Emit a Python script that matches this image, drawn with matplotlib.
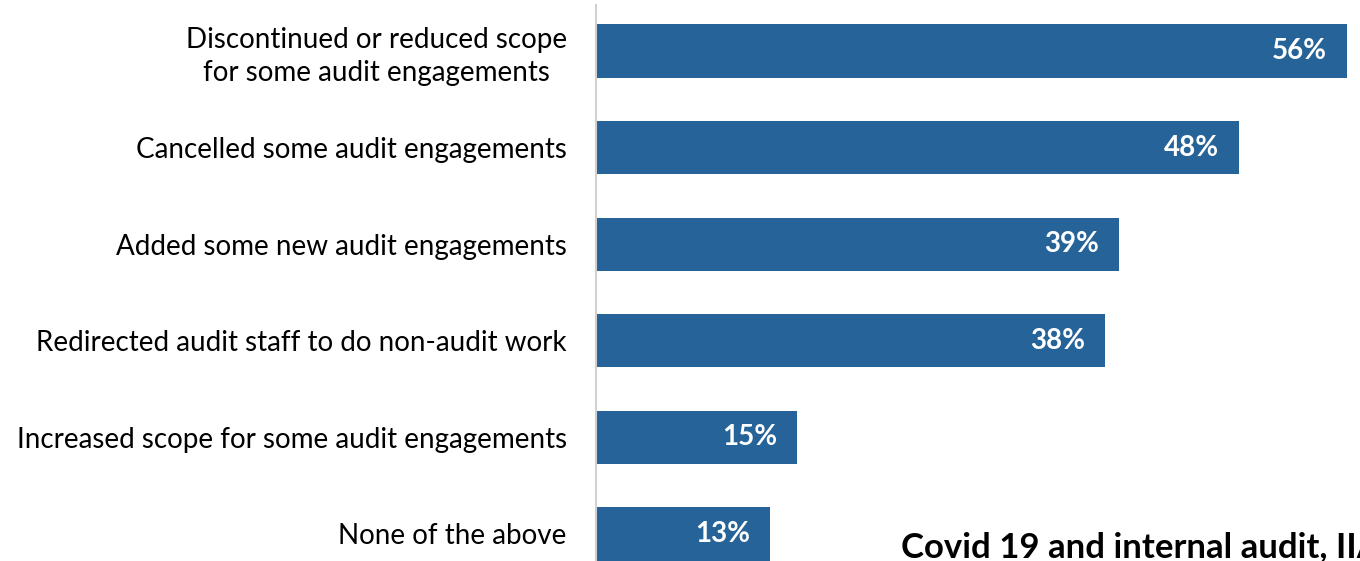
import matplotlib
matplotlib.use("Agg")
import matplotlib.pyplot as plt

# survey answers, top to bottom
actions = [
    "Discontinued or reduced scope\nfor some audit engagements",
    "Cancelled some audit engagements",
    "Added some new audit engagements",
    "Redirected audit staff to do non-audit work",
    "Increased scope for some audit engagements",
    "None of the above",
]
shares = [56, 48, 39, 38, 15, 13]

bar_color = "#266398"
plt.rcParams["font.family"] = ["Lato", "DejaVu Sans"]

fig = plt.figure(figsize=(13.6, 5.61), dpi=100)
ax = fig.add_axes([596 / 1360, 0, 1 - 596 / 1360, 556 / 561])

pos = list(range(len(actions)))
ax.barh(pos, shares, height=0.55, color=bar_color)

# value labels inside the bar ends
for p, v in zip(pos, shares):
    ax.text(v - 1.5, p, f"{v}%", ha="right", va="center",
            color="white", fontsize=20, fontweight="bold")

ax.set_xlim(0, 57.0)
ax.set_ylim(5.28, -0.476)
ax.set_yticks(pos)
ax.set_yticklabels(actions, fontsize=20, ma="center", linespacing=1.3)
ax.tick_params(axis="y", length=0, pad=21)
ax.set_xticks([])

for side in ["top", "right", "bottom"]:
    ax.spines[side].set_visible(False)
ax.spines["left"].set_color("#d0d0d0")
ax.spines["left"].set_linewidth(1.5)

fig.text(901 / 1360, 4 / 561, "Covid 19 and internal audit, IIA",
         fontsize=25, fontweight="bold", ha="left", va="baseline")

fig.savefig("out.png", dpi=100)
